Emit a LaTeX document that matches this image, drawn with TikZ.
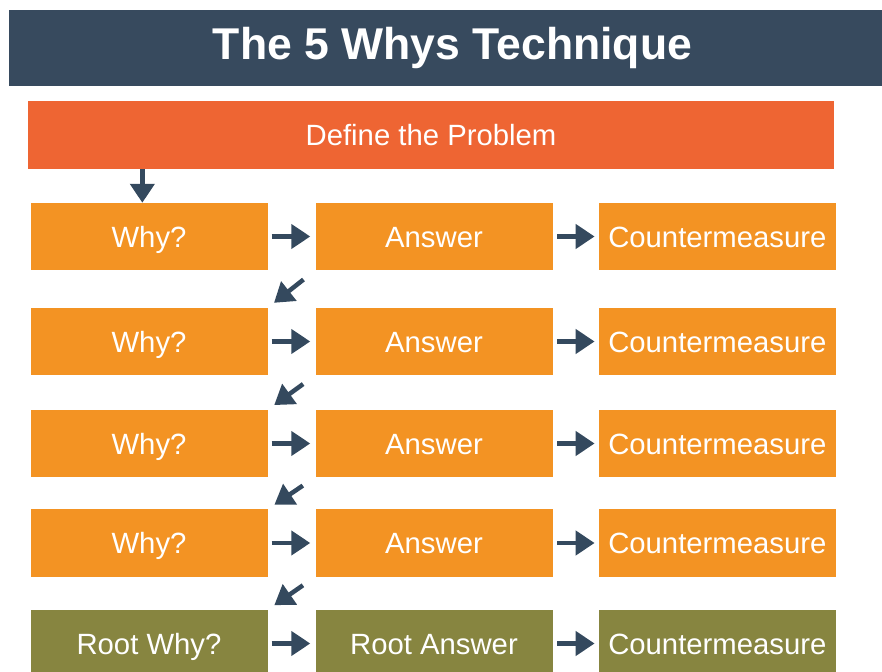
\documentclass[tikz,border=0pt]{standalone}
\usepackage{fontspec}
\setmainfont{Liberation Sans}
\usetikzlibrary{positioning,arrows.meta}

\definecolor{titlebg}{HTML}{374A5E}
\definecolor{definebg}{HTML}{EE6533}
\definecolor{whybg}{HTML}{F39323}
\definecolor{rootbg}{HTML}{878540}
\definecolor{arrowc}{HTML}{34495E}

\begin{document}
\begin{tikzpicture}[node distance=1cm,
    titlebar/.style={rectangle, fill=titlebg, minimum width=26.19cm, minimum height=2.28cm, text=white, font=\fontsize{38}{45}\selectfont\bfseries},
    problem/.style={rectangle, fill=definebg, minimum width=24.18cm, minimum height=2.04cm, text=white, font=\fontsize{25}{30}\selectfont},
    box/.style={rectangle, fill=whybg, minimum width=7.11cm, minimum height=2.01cm, text height=22pt, text depth=4pt, text centered, text=white, font=\fontsize{25}{30}\selectfont},
    rootbox/.style={box, fill=rootbg},
    arr/.style={-{Triangle[length=5.7mm, width=7.2mm]}, line width=1.35mm, draw=arrowc}]

\clip (0,0) rectangle (26.46,-20.16);

% Title and problem
\node[titlebar] (title) at (13.365,-1.44) {\hspace*{0.42cm}The 5 Whys Technique};
\node[problem] (define) at (12.93,-4.05) {Define the Problem};

% Row 1
\node[box] (why1) at (4.47,-7.095) {Why?};
\node[box, right of=why1, node distance=8.55cm] (ans1) {Answer};
\node[box, right of=ans1, node distance=8.5cm] (cm1) {Countermeasure};

% Row 2
\node[box, below of=why1, node distance=3.15cm] (why2) {Why?};
\node[box, right of=why2, node distance=8.55cm] (ans2) {Answer};
\node[box, right of=ans2, node distance=8.5cm] (cm2) {Countermeasure};

% Row 3
\node[box, below of=why2, node distance=3.06cm] (why3) {Why?};
\node[box, right of=why3, node distance=8.55cm] (ans3) {Answer};
\node[box, right of=ans3, node distance=8.5cm] (cm3) {Countermeasure};

% Row 4
\node[box, below of=why3, node distance=2.985cm] (why4) {Why?};
\node[box, right of=why4, node distance=8.55cm] (ans4) {Answer};
\node[box, right of=ans4, node distance=8.5cm] (cm4) {Countermeasure};

% Root row
\node[rootbox, below of=why4, node distance=3.015cm] (why5) {Root Why?};
\node[rootbox, right of=why5, node distance=8.55cm] (ans5) {Root Answer};
\node[rootbox, right of=ans5, node distance=8.5cm] (cm5) {Countermeasure};

% Connections
\draw[arr] ([xshift=-2mm]why1.north |- define.south) -- ([xshift=-2mm]why1.north);

\foreach \i in {1,...,5} {
  \draw[arr, shorten <=1.2mm, shorten >=1.5mm] (why\i) -- (ans\i);
  \draw[arr, shorten <=1.3mm, shorten >=1.2mm] (ans\i) -- (cm\i);
}

\foreach \i/\j in {1/2,2/3,3/4,4/5} {
  \draw[arr, shorten <=4.5mm, shorten >=2.4mm] (ans\i.south west) -- (why\j.north east);
}

\end{tikzpicture}
\end{document}
